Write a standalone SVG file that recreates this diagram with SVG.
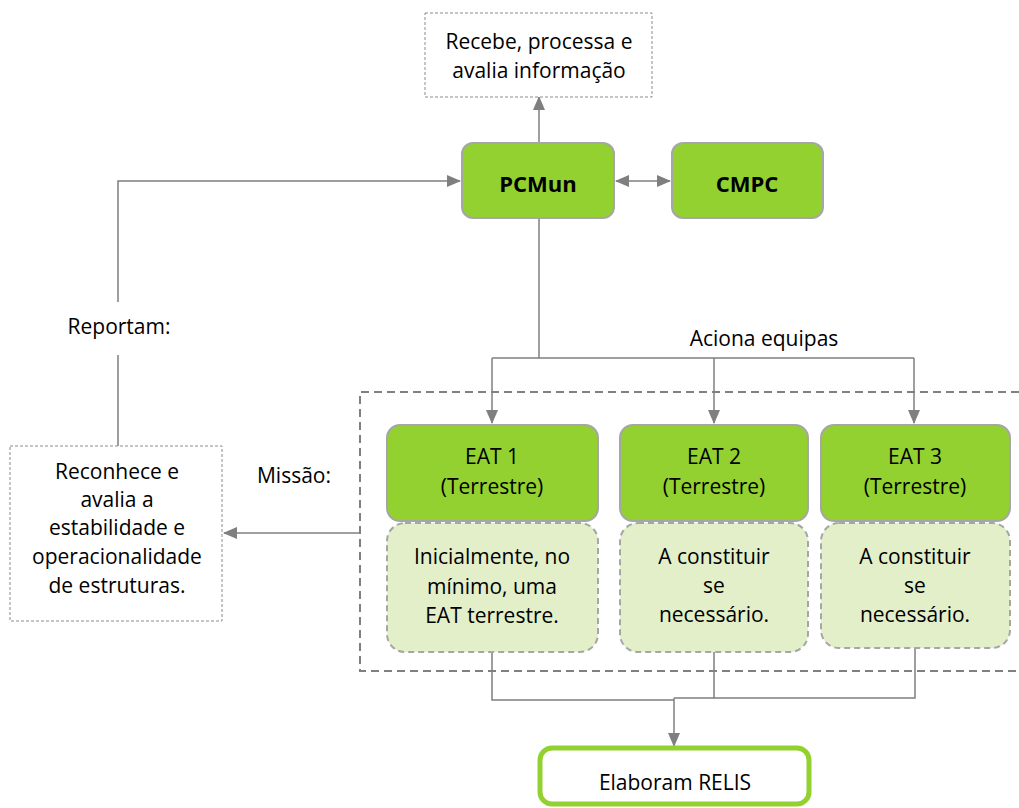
<svg xmlns="http://www.w3.org/2000/svg" width="1019" height="808" viewBox="0 0 1019 808">
<defs>
<marker id="ah" viewBox="0 0 14 12" refX="13" refY="6" markerWidth="14" markerHeight="12" markerUnits="userSpaceOnUse" orient="auto-start-reverse">
<path d="M0,0 L14,6 L0,12 Z" fill="#7f7f7f"/>
</marker>
<style>
text{font-family:"Open Sans","Liberation Sans",sans-serif;font-size:21px;fill:#000;text-anchor:middle}
.b{font-weight:bold;font-size:22px}
.note{fill:#fff;stroke:#8c8c8c;stroke-width:1;stroke-dasharray:3,2}
.g{fill:#92d12f;stroke:#a6a6a6;stroke-width:2}
.lg{fill:#e2efc9;stroke:#a6a6a6;stroke-width:2;stroke-dasharray:6,4}
.c{fill:none;stroke:#7f7f7f;stroke-width:1.5}
</style>
</defs>
<rect width="1019" height="808" fill="#fff"/>
<g id="connectors">
<path class="c" d="M539,143 V97" marker-end="url(#ah)"/>
<path class="c" d="M616,181 H670" marker-start="url(#ah)" marker-end="url(#ah)"/>
<path class="c" d="M118,446 V355 M118,302 V181 H460" marker-end="url(#ah)"/>
<path class="c" d="M539,218 V358"/>
<path class="c" d="M492,358 H914"/>
<path class="c" d="M492,358 V423" marker-end="url(#ah)"/>
<path class="c" d="M714,358 V423" marker-end="url(#ah)"/>
<path class="c" d="M914,358 V423" marker-end="url(#ah)"/>
<path class="c" d="M360,533 H224" marker-end="url(#ah)"/>
<path class="c" d="M492,652 V700 H674"/>
<path class="c" d="M714,652 V698 H674"/>
<path class="c" d="M915,648 V698 H714"/>
<path class="c" d="M674,698 V746" marker-end="url(#ah)"/>
</g>
<g id="container">
<path d="M1019,392 H360 V671 H1019" fill="none" stroke="#808080" stroke-width="2" stroke-dasharray="8,5"/>
</g>
<g id="top-note">
<rect class="note" x="425" y="13" width="227" height="84"/>
<text x="539" y="49">Recebe, processa e</text>
<text x="539" y="78">avalia informação</text>
</g>
<g id="pcmun">
<rect class="g" x="462" y="143" width="152" height="75" rx="11"/>
<text class="b" x="538" y="192">PCMun</text>
</g>
<g id="cmpc">
<rect class="g" x="672" y="143" width="151" height="75" rx="11"/>
<text class="b" x="747" y="192">CMPC</text>
</g>
<g id="label-reportam"><text x="119" y="334">Reportam:</text></g>
<g id="label-aciona"><text x="764" y="346">Aciona equipas</text></g>
<g id="label-missao"><text x="294" y="483">Missão:</text></g>
<g id="mission-note">
<rect class="note" x="10" y="446" width="212" height="175"/>
<text x="117" y="479">Reconhece e</text>
<text x="117" y="507">avalia a</text>
<text x="117" y="535">estabilidade e</text>
<text x="117" y="564">operacionalidade</text>
<text x="117" y="593">de estruturas.</text>
</g>
<g id="eat1">
<rect class="g" x="387" y="425" width="211" height="96" rx="13"/>
<text x="492" y="464">EAT 1</text>
<text x="492" y="494">(Terrestre)</text>
</g>
<g id="eat1-desc">
<rect class="lg" x="387" y="523" width="211" height="129" rx="18"/>
<text x="492" y="564">Inicialmente, no</text>
<text x="492" y="594">mínimo, uma</text>
<text x="492" y="623">EAT terrestre.</text>
</g>
<g id="eat2">
<rect class="g" x="620" y="425" width="188" height="96" rx="13"/>
<text x="714" y="464">EAT 2</text>
<text x="714" y="494">(Terrestre)</text>
</g>
<g id="eat2-desc">
<rect class="lg" x="620" y="523" width="188" height="129" rx="18"/>
<text x="714" y="564">A constituir</text>
<text x="714" y="593">se</text>
<text x="714" y="622">necessário.</text>
</g>
<g id="eat3">
<rect class="g" x="821" y="425" width="189" height="96" rx="13"/>
<text x="915" y="464">EAT 3</text>
<text x="915" y="494">(Terrestre)</text>
</g>
<g id="eat3-desc">
<rect class="lg" x="821" y="523" width="189" height="125" rx="18"/>
<text x="915" y="564">A constituir</text>
<text x="915" y="593">se</text>
<text x="915" y="622">necessário.</text>
</g>
<g id="relis">
<rect x="540" y="748" width="269" height="56" rx="12" fill="#fff" stroke="#92d12f" stroke-width="5"/>
<text x="675" y="790">Elaboram RELIS</text>
</g>
</svg>
